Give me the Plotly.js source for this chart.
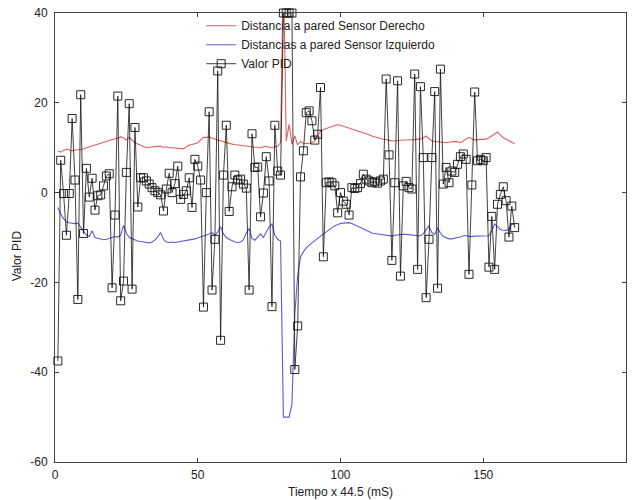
<!DOCTYPE html>
<html>
<head>
<meta charset="utf-8">
<script src="https://cdn.plot.ly/plotly-3.0.1.min.js"></script>
<style>html,body{margin:0;padding:0;background:#fff;}#chart{width:635px;height:500px;}</style>
</head>
<body>
<div id="chart"></div>
<script>
// Tiempo (muestras x 44.5 mS)
const tiempo = [
  1,2,3,4,5,6,7,8,9,10,
  11,12,13,14,15,16,17,18,19,20,
  21,22,23,24,25,26,27,28,29,30,
  31,32,33,34,35,36,37,38,39,40,
  41,42,43,44,45,46,47,48,49,50,
  51,52,53,54,55,56,57,58,59,60,
  61,62,63,64,65,66,67,68,69,70,
  71,72,73,74,75,76,77,78,79,80,
  81,82,83,84,85,86,87,88,89,90,
  91,92,93,94,95,96,97,98,99,100,
  101,102,103,104,105,106,107,108,109,110,
  111,112,113,114,115,116,117,118,119,120,
  121,122,123,124,125,126,127,128,129,130,
  131,132,133,134,135,136,137,138,139,140,
  141,142,143,144,145,146,147,148,149,150,
  151,152,153,154,155,156,157,158,159,160,
  161
];

// Distancia a pared Sensor Derecho
const sensorDerecho = [
  9.3, 9.0, 9.4, 9.7, 9.5, 9.3, 9.5, 9.6, 9.7, 9.7,
  10, 10.2, 10.4, 10.6, 10.9, 11.1, 11.3, 11.5, 11.7, 11.9,
  12, 12.1, 12.4, 12.2, 11.7, 12.3, 11.6, 11.1, 10.8, 10.5,
  10.2, 10, 10.1, 10.2, 10.3, 10.3, 10.3, 10.1, 10.2, 10,
  10, 9.9, 9.8, 9.8, 9.8, 10.2, 10.6, 10.7, 10.9, 11.1,
  11.7, 12.3, 12.3, 12.4, 12.1, 11.9, 11.7, 11.5, 11.3, 11.1,
  10.9, 10.8, 10.7, 10.6, 10.5, 10.5, 10.4, 10.3, 10.2, 10.1,
  10.1, 10, 10.2, 10.3, 10.1, 10, 10.2, 10.3, 11.1, 50,
  11.5, 15.2, 10.8, 12.6, 10.6, 11.4, 11, 10.9, 11, 11.1,
  11.5, 12.6, 13.7, 14, 14.3, 14.5, 14.7, 14.9, 15.1, 15,
  14.8, 14.5, 14.3, 14.1, 13.9, 13.7, 13.6, 13.4, 13.1, 12.9,
  12.6, 12.4, 12.2, 12, 11.9, 11.8, 11.6, 11.5, 11.5, 11.6,
  11.6, 11.7, 11.7, 11.7, 11.8, 11.8, 11.9, 11.9, 12.2, 12.6,
  12, 11.5, 11.4, 11.3, 11.2, 11.1, 11.1, 11.2, 11.3, 11.4,
  11.3, 11.1, 11.5, 11.9, 12.3, 12, 11.7, 11.8, 11.8, 11.9,
  11.9, 12.2, 12.6, 13.1, 13.5, 12.8, 12.2, 11.9, 11.5, 11.2,
  10.9
];

// Distancias a pared Sensor Izquierdo
const sensorIzquierdo = [
  -3.3, -4.8, -5.8, -6.5, -6.7, -6.8, -6.9, -6.8, -7.8, -8.5,
  -9.5, -9.8, -8.5, -10, -10.2, -10.4, -10.5, -10.4, -10.2, -10,
  -9.8, -9.9, -9.5, -7.3, -9, -10, -10.3, -10.6, -10.8, -10.9,
  -11, -11.1, -11.2, -11, -10.6, -9.8, -8.9, -10.4, -11, -11.1,
  -11, -11.1, -11, -10.9, -10.8, -10.7, -10.6, -10.5, -10.3, -10.1,
  -9.9, -9.6, -9.4, -9.2, -8.9, -9.5, -8.8, -7.6, -9.2, -10,
  -10.4, -10.7, -11, -11.1, -11, -10.5, -9, -8, -10.2, -10.6,
  -9.8, -9.2, -10, -8.7, -7.6, -7, -9.5, -10.4, -10.8, -50,
  -50, -50, -47, -27, -18.5, -14.3, -13.2, -12.3, -11.7, -11.1,
  -10.7, -10.2, -9.7, -9.1, -8.6, -8.2, -7.8, -7.4, -7.1, -6.9,
  -6.8, -6.7, -6.7, -6.9, -7.2, -7.5, -7.8, -8.2, -8.5, -8.7,
  -9, -9.1, -9.2, -9.3, -9.5, -9.6, -9.6, -9.7, -9.5, -9.4,
  -9.3, -9.3, -9.3, -9.4, -9.5, -9.5, -9.6, -9.6, -9.2, -8.2,
  -7.4, -8.9, -9.3, -7.8, -9, -9.8, -10.1, -10.3, -10.3, -10.1,
  -10, -9.9, -9.6, -9.6, -9.7, -9.8, -9.7, -9.7, -9.7, -9.7,
  -9.7, -9.6, -8.5, -7, -7.6, -8.2, -8.4, -8.5, -8, -7,
  -7.2
];

// Valor PID
const valorPID = [
  -37.5, 7.2, -0.2, -9.5, -0.2, 16.5, 2.8, -23.8, 21.8, -9.1,
  5.4, -1, 3.2, -3.9, -0.7, -0.5, 1.5, 3.7, 4.2, -21.2,
  -5, 21.5, -24.1, -19.7, 4.5, 19.8, -21.5, 14.5, -3.2, 3.3,
  3.3, 2.6, 1.9, 1.1, 0.4, 0, -0.5, -4.1, 0.8, 4.3,
  0, 2, 5.9, -1.5, -0.4, 0.4, 3.3, -3.3, 7.4, 5.9,
  2.8, -25.5, 0, 18, -21.7, -10.4, 27.1, -32.9, 3.9, 15,
  -4.2, 1.3, 3.9, 2.8, 3, 1.9, 1, -21.7, 13.1, 5.6,
  5.7, -5.4, -0.1, 8, 2.6, -25.4, 15, 4.8, 3.9, 40,
  40, 40, 40, -39.4, -29.7, 3.5, 9.3, 17.8, 18.2, 16,
  11.7, 13, 23.4, -14.3, 2.2, 2.4, 2.2, 1.5, -4.5, 0,
  -1.9, -2.6, -5, 1.1, 0.9, 1.1, 2, 4.1, 3, 2.6,
  2.2, 2.4, 2.1, 2.6, 3, 25.3, 8.4, -15.1, 2.2, 24.9,
  -18.6, 1.5, 2.5, 1.1, 0.8, 26.4, -17.1, 23.6, 7.8, -23.4,
  -10.4, 7.8, 22.5, -21.3, 27.5, 1.9, 5.6, 2.2, 4.8, 4.5,
  6.3, 8, 8.6, 7.4, -18.2, 1.7, 22.4, 7.1, 7.4, 7.1,
  7.8, -16.6, -5.3, -17.1, -2.6, -0.4, 1.3, -1.8, -9.9, -3,
  -7.8
];

const xTicks = [0, 50, 100, 150, 200];
const yTicks = [-60, -40, -20, 0, 20, 40];

const FONT = '"Liberation Sans", Arial, Helvetica, sans-serif';

const traces = [
  {
    x: tiempo, y: sensorDerecho, type: 'scatter', mode: 'lines',
    name: 'Distancia a pared Sensor Derecho',
    line: {color: '#e06060', width: 1.1}
  },
  {
    x: tiempo, y: sensorIzquierdo, type: 'scatter', mode: 'lines',
    name: 'Distancias a pared Sensor Izquierdo',
    line: {color: '#5c5cd8', width: 1.1}
  },
  {
    x: tiempo, y: valorPID, type: 'scatter', mode: 'lines+markers',
    name: 'Valor PID',
    line: {color: '#111', width: 0.8},
    marker: {symbol: 'square-open', size: 8, color: '#111', line: {width: 0.9, color: '#111'}},
    cliponaxis: false
  }
];

const axisCommon = {
  showgrid: false, zeroline: false,
  showline: true, linecolor: '#444', linewidth: 1,
  mirror: 'ticks', ticks: 'inside', ticklen: 4, tickcolor: '#444', tickwidth: 1,
  tickfont: {family: FONT, size: 12, color: '#222'}
};

const layout = {
  width: 635, height: 500,
  margin: {l: 55, r: 9, t: 13, b: 38},
  paper_bgcolor: '#fff', plot_bgcolor: '#fff',
  font: {family: FONT, size: 12, color: '#222'},
  showlegend: true,
  legend: {
    x: 0.256, y: 1.004, xanchor: 'left', yanchor: 'top',
    bgcolor: 'rgba(0,0,0,0)', borderwidth: 0,
    font: {family: FONT, size: 12, color: '#222'}
  },
  xaxis: Object.assign({}, axisCommon, {
    range: [0, 200], tickvals: xTicks, ticktext: xTicks.map(String),
    ticklabelstandoff: 2,
    title: {text: 'Tiempo x 44.5 (mS)', font: {family: FONT, size: 12, color: '#222'}, standoff: 6}
  }),
  yaxis: Object.assign({}, axisCommon, {
    range: [-60, 40], tickvals: yTicks, ticktext: yTicks.map(String),
    ticklabelstandoff: 4
  }),
  annotations: [{
    text: 'Valor PID', textangle: -90,
    xref: 'paper', yref: 'paper', x: -0.065, y: 0.46,
    xanchor: 'center', yanchor: 'middle', showarrow: false,
    font: {family: FONT, size: 12, color: '#222'}
  }]
};

Plotly.newPlot('chart', traces, layout, {displayModeBar: false, staticPlot: true});
</script>
</body>
</html>
